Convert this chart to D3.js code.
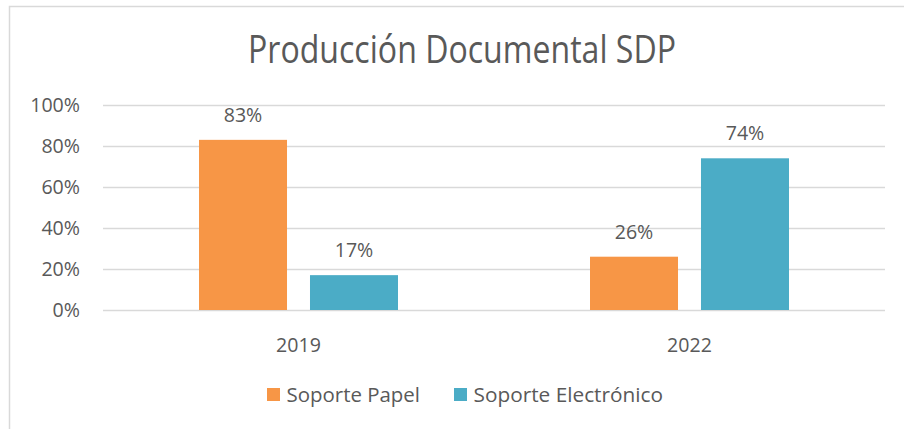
<!DOCTYPE html>
<html>
<head>
<meta charset="utf-8">
<script src="https://cdn.jsdelivr.net/npm/d3@7"></script>
<style>
  html, body { margin: 0; padding: 0; background: #fff; }
  svg { display: block; }
  text { font-family: "Open Sans", "Noto Sans", sans-serif; fill: #595959; }
</style>
</head>
<body>
<svg id="chart" width="904" height="429"></svg>
<script>
// Chart data
const title = "Producción Documental SDP";
const categories = ["2019", "2022"];
const seriesNames = ["Soporte Papel", "Soporte Electrónico"];
const seriesColors = ["#F79646", "#4BACC6"];
const soportePapel = [0.83, 0.26];
const soporteElectronico = [0.17, 0.74];
const yTicks = [0, 0.2, 0.4, 0.6, 0.8, 1.0];

const seriesValues = [soportePapel, soporteElectronico];

const svg = d3.select("#chart");

// Outer chart frame
svg.append("rect")
  .attr("x", 9.5).attr("y", 6.5)
  .attr("width", 1000).attr("height", 1000)
  .attr("fill", "none")
  .attr("stroke", "#d9d9d9")
  .attr("stroke-width", 1.5);

// Shrink or stretch a text element to a target width when the fallback font differs
function fit(sel, target) {
  sel.each(function () {
    const w = this.getComputedTextLength();
    if (Math.abs(w - target) / target > 0.02) {
      d3.select(this).attr("textLength", target).attr("lengthAdjust", "spacingAndGlyphs");
    }
  });
}

// Title
svg.append("text")
  .attr("x", 462).attr("y", 63)
  .attr("text-anchor", "middle")
  .attr("font-size", 38)
  .text(title)
  .call(fit, 428);

// Plot area
const plot = { left: 103, right: 885, top: 105, bottom: 310 };

const x = d3.scaleBand()
  .domain(categories)
  .range([plot.left, plot.right])
  .padding(0);

const xSub = d3.scaleBand()
  .domain(seriesNames)
  .range([0, x.bandwidth()])
  .paddingInner(0.207)
  .paddingOuter(0.865);

const y = d3.scaleLinear()
  .domain([0, 1])
  .range([plot.bottom, plot.top]);

// Gridlines and y labels via axis
const yAxis = d3.axisLeft(y)
  .tickValues(yTicks)
  .tickFormat(d3.format(".0%"))
  .tickSize(-(plot.right - plot.left))
  .tickPadding(23);

const gy = svg.append("g")
  .attr("transform", `translate(${plot.left},0)`)
  .call(yAxis);
gy.select(".domain").remove();
gy.selectAll(".tick line")
  .attr("stroke", "#d9d9d9")
  .attr("stroke-width", 1.3);
gy.selectAll(".tick text")
  .attr("font-size", 19.6)
  .attr("font-family", null)
  .attr("fill", "#595959");

// Category axis labels
const xAxis = d3.axisBottom(x).tickSize(0).tickPadding(28);
const gx = svg.append("g")
  .attr("transform", `translate(0,${plot.bottom})`)
  .call(xAxis);
gx.select(".domain").remove();
gx.selectAll(".tick text")
  .attr("font-size", 19.6)
  .attr("font-family", null)
  .attr("fill", "#595959");

// Bars
const rows = [];
categories.forEach((c, i) => {
  seriesNames.forEach((s, j) => {
    rows.push({ cat: c, series: s, value: seriesValues[j][i], color: seriesColors[j] });
  });
});

const groups = svg.append("g");
groups.selectAll("rect")
  .data(rows)
  .join("rect")
  .attr("x", d => x(d.cat) + xSub(d.series))
  .attr("y", d => y(d.value))
  .attr("width", xSub.bandwidth())
  .attr("height", d => y(0) - y(d.value))
  .attr("fill", d => d.color);

// Value labels
svg.append("g").selectAll("text")
  .data(rows)
  .join("text")
  .attr("x", d => x(d.cat) + xSub(d.series) + xSub.bandwidth() / 2)
  .attr("y", d => y(d.value) - 18)
  .attr("text-anchor", "middle")
  .attr("font-size", 19.6)
  .text(d => d3.format(".0%")(d.value));

// Legend
const legendItems = [
  { name: seriesNames[0], color: seriesColors[0], x: 267, w: 133.5 },
  { name: seriesNames[1], color: seriesColors[1], x: 454, w: 189.5 }
];
const lg = svg.append("g");
legendItems.forEach(it => {
  lg.append("rect")
    .attr("x", it.x).attr("y", 388)
    .attr("width", 13).attr("height", 13)
    .attr("fill", it.color);
  lg.append("text")
    .attr("x", it.x + 19.5).attr("y", 402)
    .attr("font-size", 19.6)
    .text(it.name)
    .call(fit, it.w);
});
</script>
</body>
</html>
